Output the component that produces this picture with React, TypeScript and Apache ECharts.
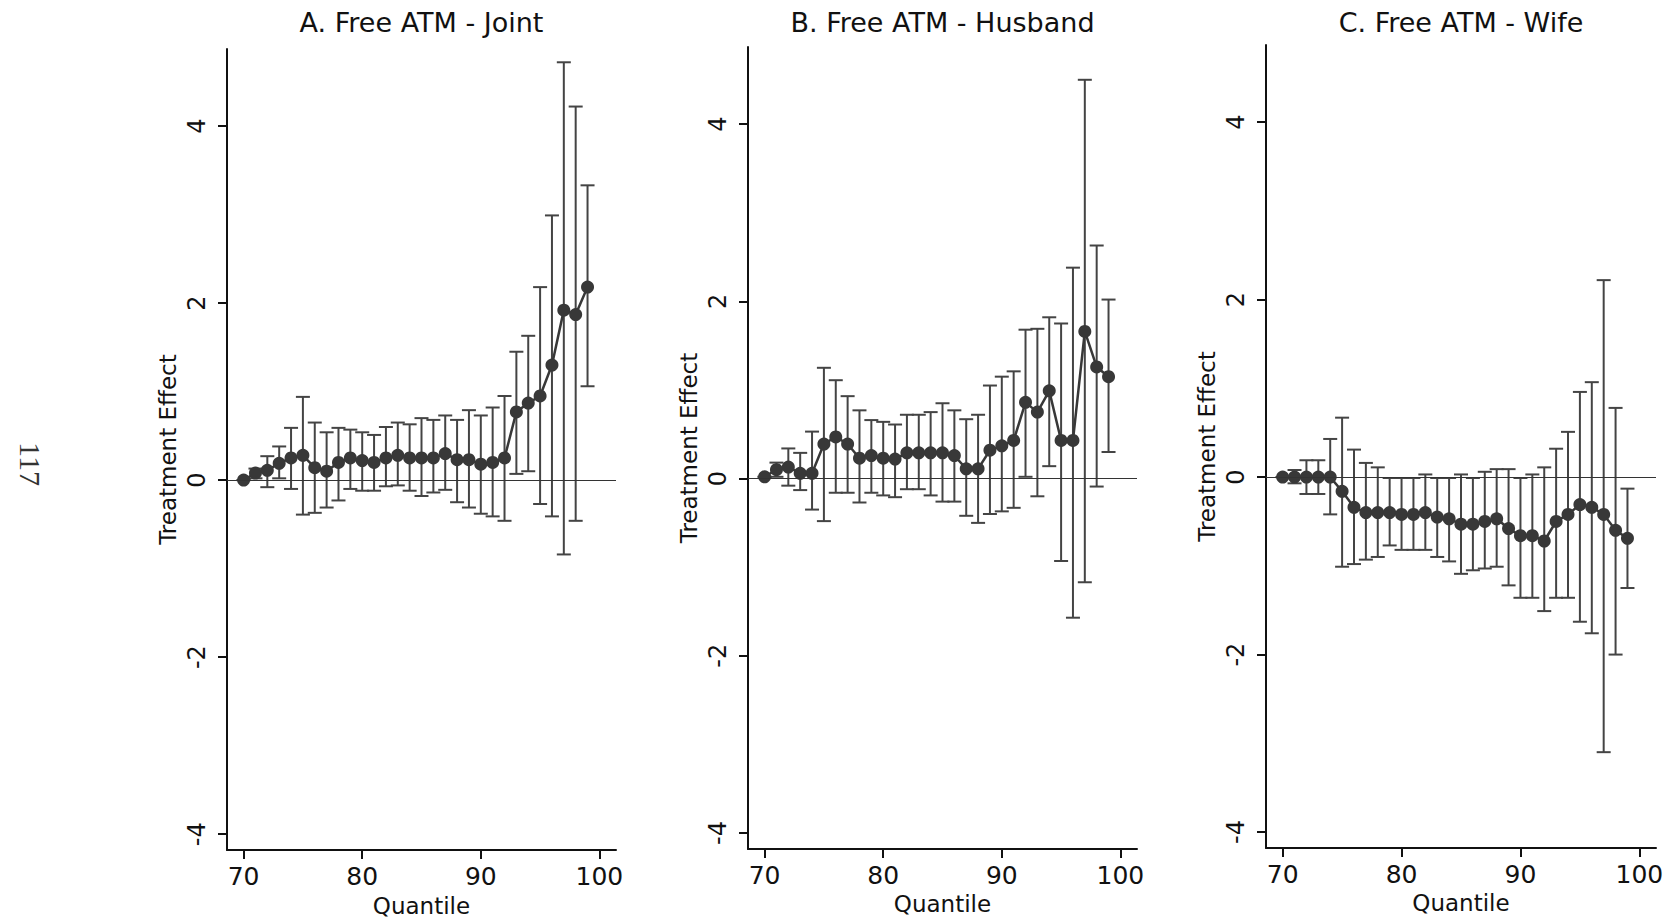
import React, { useEffect, useRef } from "react";
import * as echarts from "echarts";

const quantiles = [70, 71, 72, 73, 74, 75, 76, 77, 78, 79, 80, 81, 82, 83, 84, 85, 86, 87, 88, 89, 90, 91, 92, 93, 94, 95, 96, 97, 98, 99];

const titles = ["A. Free ATM - Joint", "B. Free ATM - Husband", "C. Free ATM - Wife"];
const xTicks = [70, 80, 90, 100];
const yTicks = [-4, -2, 0, 2, 4];

const jointEst = [0, 0.08, 0.11, 0.19, 0.25, 0.28, 0.14, 0.10, 0.20, 0.25, 0.22, 0.20, 0.25, 0.28, 0.25, 0.25, 0.25, 0.30, 0.23, 0.23, 0.18, 0.20, 0.25, 0.77, 0.87, 0.95, 1.30, 1.92, 1.87, 2.18];
const jointHi = [0, 0.13, 0.27, 0.38, 0.59, 0.94, 0.65, 0.54, 0.59, 0.57, 0.54, 0.51, 0.60, 0.65, 0.63, 0.70, 0.68, 0.73, 0.68, 0.79, 0.73, 0.82, 0.95, 1.45, 1.63, 2.18, 2.99, 4.72, 4.22, 3.33];
const jointLo = [0, 0.02, -0.08, 0.02, -0.10, -0.39, -0.37, -0.31, -0.23, -0.10, -0.12, -0.12, -0.07, -0.06, -0.12, -0.18, -0.14, -0.11, -0.25, -0.31, -0.38, -0.41, -0.46, 0.07, 0.10, -0.27, -0.41, -0.84, -0.46, 1.06];

const husbandEst = [0.02, 0.10, 0.13, 0.06, 0.06, 0.39, 0.47, 0.39, 0.23, 0.26, 0.23, 0.22, 0.29, 0.29, 0.29, 0.29, 0.26, 0.11, 0.11, 0.32, 0.37, 0.43, 0.86, 0.75, 0.99, 0.43, 0.43, 1.66, 1.26, 1.15];
const husbandHi = [0.02, 0.18, 0.34, 0.29, 0.53, 1.25, 1.11, 0.93, 0.77, 0.66, 0.64, 0.61, 0.72, 0.72, 0.75, 0.85, 0.77, 0.67, 0.72, 1.05, 1.15, 1.21, 1.68, 1.69, 1.82, 1.75, 2.38, 4.50, 2.63, 2.02];
const husbandLo = [0.02, 0.02, -0.08, -0.13, -0.35, -0.48, -0.16, -0.16, -0.27, -0.16, -0.19, -0.21, -0.12, -0.12, -0.19, -0.26, -0.26, -0.42, -0.50, -0.40, -0.37, -0.33, 0.02, -0.20, 0.14, -0.93, -1.57, -1.17, -0.09, 0.30];

const wifeEst = [0, 0, 0, 0, 0, -0.16, -0.34, -0.40, -0.40, -0.40, -0.42, -0.42, -0.40, -0.45, -0.47, -0.53, -0.53, -0.50, -0.47, -0.58, -0.66, -0.66, -0.72, -0.50, -0.42, -0.31, -0.34, -0.42, -0.60, -0.69];
const wifeHi = [0, 0.08, 0.19, 0.19, 0.43, 0.67, 0.31, 0.16, 0.11, -0.01, -0.01, -0.01, 0.03, -0.01, -0.01, 0.03, -0.01, 0.06, 0.09, 0.09, -0.01, 0.03, 0.11, 0.32, 0.51, 0.96, 1.07, 2.22, 0.78, -0.13];
const wifeLo = [0, -0.07, -0.19, -0.19, -0.42, -1.01, -0.98, -0.93, -0.90, -0.77, -0.82, -0.82, -0.82, -0.90, -0.95, -1.09, -1.05, -1.03, -1.01, -1.22, -1.36, -1.36, -1.51, -1.36, -1.36, -1.63, -1.76, -3.10, -2.00, -1.25];

const panels = [
  { est: jointEst, lo: jointLo, hi: jointHi },
  { est: husbandEst, lo: husbandLo, hi: husbandHi },
  { est: wifeEst, lo: wifeLo, hi: wifeHi },
];

const FONT = "DejaVu Sans";
const INK = "#111";
const MARK = "#383838";
const BAR = "#444";

const grids = [
  { left: 227, top: 49, width: 389, height: 802 },
  { left: 748, top: 47, width: 389, height: 802 },
  { left: 1266, top: 45, width: 390, height: 803 },
];

export default function App() {
  const ref = useRef<HTMLDivElement>(null);
  useEffect(() => {
    if (!ref.current) return;
    const chart = echarts.init(ref.current, null, { renderer: "svg" });

    const xAxes = grids.map((_, i) => ({
      gridIndex: i,
      type: "value",
      min: 68.6,
      max: 101.4,
      axisLine: { show: true, onZero: false, lineStyle: { color: INK, width: 2 } },
      axisTick: { show: true, length: 9, customValues: xTicks, lineStyle: { color: INK, width: 2 } },
      axisLabel: { customValues: xTicks, margin: 14, fontSize: 25, color: INK, fontFamily: FONT },
      splitLine: { show: false },
      name: "Quantile",
      nameLocation: "middle",
      nameGap: 41,
      nameTextStyle: { fontSize: 23, color: INK, fontFamily: FONT },
    }));

    const yAxes = grids.map((_, i) => ({
      gridIndex: i,
      type: "value",
      min: -4.18,
      max: 4.87,
      axisLine: { show: true, onZero: false, lineStyle: { color: INK, width: 2 } },
      axisTick: { show: true, length: 9, customValues: yTicks, lineStyle: { color: INK, width: 2 } },
      axisLabel: { customValues: yTicks, rotate: 90, margin: 18, fontSize: 24, color: INK, fontFamily: FONT },
      splitLine: { show: false },
      name: "Treatment Effect",
      nameLocation: "middle",
      nameGap: 48,
      nameTextStyle: { fontSize: 23, color: INK, fontFamily: FONT },
    }));

    const series: any[] = [];
    panels.forEach((p, i) => {
      series.push({
        type: "custom",
        xAxisIndex: i,
        yAxisIndex: i,
        z: 2,
        encode: { x: 0, y: [1, 2] },
        data: quantiles.map((q, k) => [q, p.lo[k], p.hi[k]]),
        renderItem: (params: any, api: any) => {
          const x = api.value(0);
          const lo = api.coord([x, api.value(1)]);
          const hi = api.coord([x, api.value(2)]);
          const hw = 7;
          const style = { stroke: BAR, lineWidth: 2, fill: "none" };
          return {
            type: "group",
            children: [
              { type: "line", shape: { x1: lo[0], y1: lo[1], x2: hi[0], y2: hi[1] }, style },
              { type: "line", shape: { x1: lo[0] - hw, y1: lo[1], x2: lo[0] + hw, y2: lo[1] }, style },
              { type: "line", shape: { x1: hi[0] - hw, y1: hi[1], x2: hi[0] + hw, y2: hi[1] }, style },
            ],
          };
        },
      });
      series.push({
        type: "line",
        xAxisIndex: i,
        yAxisIndex: i,
        z: 3,
        data: quantiles.map((q, k) => [q, p.est[k]]),
        symbol: "circle",
        symbolSize: 13,
        itemStyle: { color: MARK },
        lineStyle: { color: MARK, width: 2.5 },
        markLine: {
          silent: true,
          symbol: ["none", "none"],
          label: { show: false },
          lineStyle: { color: "#333", width: 1, type: "solid" },
          data: [{ yAxis: 0 }],
        },
      });
    });

    const graphics: any[] = titles.map((t, i) => ({
      type: "text",
      x: grids[i].left + grids[i].width / 2,
      y: 22,
      style: {
        text: t,
        fill: INK,
        fontSize: 27,
        fontFamily: FONT,
        align: "center",
        verticalAlign: "middle",
        textAlign: "center",
        textVerticalAlign: "middle",
      },
    }));
    graphics.push({
      type: "text",
      x: 30,
      y: 464,
      rotation: -Math.PI / 2,
      style: {
        text: "117",
        fill: "#333",
        fontSize: 30,
        fontFamily: "Liberation Serif",
        align: "center",
        verticalAlign: "middle",
        textAlign: "center",
        textVerticalAlign: "middle",
      },
    });

    chart.setOption({
      animation: false,
      backgroundColor: "#fff",
      grid: grids,
      xAxis: xAxes,
      yAxis: yAxes,
      series,
      graphic: graphics,
    });
    return () => chart.dispose();
  }, []);
  return (
    <div
      ref={ref}
      style={{ position: "fixed", left: 0, top: 0, width: 1673, height: 922, background: "#fff" }}
    />
  );
}
